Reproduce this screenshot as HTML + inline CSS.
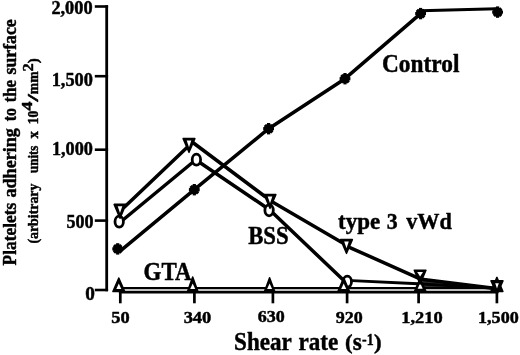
<!DOCTYPE html><html><head><meta charset="utf-8"><title>Platelet adhesion vs shear rate</title>
<style>html,body{margin:0;padding:0;background:#fff}svg{display:block;will-change:transform;filter:grayscale(1)}text{font-family:"Liberation Serif","DejaVu Serif",serif;font-weight:bold;fill:#000;stroke:#000;stroke-width:0.45px;stroke-linejoin:round}</style></head><body>
<svg width="520" height="355" viewBox="0 0 520 355">
<rect width="520" height="355" fill="#fff"/>
<g stroke="#000" fill="none" stroke-linecap="butt">
<path d="M106.7,5.3 V291.3" stroke-width="2.8"/>
<path d="M94.8,6.5 H108.1" stroke-width="2.6"/>
<path d="M94.8,76.2 H108.1" stroke-width="2.6"/>
<path d="M94.8,149.7 H108.1" stroke-width="2.6"/>
<path d="M94.8,220.6 H108.1" stroke-width="2.6"/>
<path d="M94.8,290.0 H108.1" stroke-width="2.6"/>
<path d="M118.9,292.2 H498.2" stroke-width="2.7"/>
<path d="M120.3,291 V303.3" stroke-width="2.7"/>
<path d="M194.4,291 V303.3" stroke-width="2.7"/>
<path d="M272.9,291 V303.3" stroke-width="2.7"/>
<path d="M347.1,291 V303.3" stroke-width="2.7"/>
<path d="M418.6,291 V303.3" stroke-width="2.7"/>
<path d="M496.9,291 V303.3" stroke-width="2.7"/>
</g>
<g stroke="#000" fill="none" stroke-linejoin="round" stroke-linecap="round">
<polyline stroke-width="3.5" points="121,250.3 194.3,189.7 268.6,128.7 345.0,78.7 420.6,13.6"/>
<path stroke-width="2.9" d="M420.6,10.8 L497,8.7"/>
<path stroke-width="3.5" d="M124.5,207 L187,147.5 M193.5,143 L265,196.5 M272.5,202 L341.5,242.3 M350.5,247.8 L419.5,278.6 M423.5,279.6 L496,288.6"/>
<path stroke-width="3.5" d="M123.5,219.5 L192.5,162.5 M200.5,163 L265.5,207 M273.5,213.6 L342.5,279.2 "/>
<path stroke-width="2.9" d="M352,280.6 L418,283.7 L496,288.4"/>
<path stroke-width="2.2" d="M120,288.2 H497"/>
</g>
<polygon points="421.5,278.2 493,287.6 493,289 424,289" fill="#000" fill-opacity="0.82"/>
<g>
<ellipse cx="119.20" cy="221.70" rx="4.2" ry="5.5" fill="#fff" stroke="#000" stroke-width="2.8"/>
<ellipse cx="196.40" cy="159.70" rx="4.2" ry="5.5" fill="#fff" stroke="#000" stroke-width="2.8"/>
<ellipse cx="269.10" cy="210.30" rx="4.2" ry="5.5" fill="#fff" stroke="#000" stroke-width="2.8"/>
<ellipse cx="347.30" cy="281.70" rx="4.2" ry="5.5" fill="#fff" stroke="#000" stroke-width="2.8"/>
<polygon points="112.90,291.55 124.70,291.55 118.80,277.95" fill="#000" stroke="#000" stroke-width="1.5" stroke-linejoin="round"/><polygon points="116.30,289.00 121.30,289.00 118.80,283.60" fill="#fff"/>
<polygon points="187.50,291.55 197.90,291.55 192.70,277.05" fill="#000" stroke="#000" stroke-width="1.5" stroke-linejoin="round"/><polygon points="190.20,289.00 195.20,289.00 192.70,283.60" fill="#fff"/>
<polygon points="264.50,291.55 274.70,291.55 269.60,277.65" fill="#000" stroke="#000" stroke-width="1.5" stroke-linejoin="round"/><polygon points="267.10,289.00 272.10,289.00 269.60,283.60" fill="#fff"/>
<polygon points="337.90,291.55 349.50,291.55 343.70,277.75" fill="#000" stroke="#000" stroke-width="1.5" stroke-linejoin="round"/><polygon points="341.20,289.00 346.20,289.00 343.70,283.60" fill="#fff"/>
<polygon points="414.45,291.55 425.95,291.55 420.20,277.95" fill="#000" stroke="#000" stroke-width="1.5" stroke-linejoin="round"/><polygon points="417.70,288.70 422.70,288.70 420.20,283.00" fill="#fff"/>
<polygon points="490.90,291.55 502.90,291.55 496.90,277.35" fill="#000" stroke="#000" stroke-width="1.5" stroke-linejoin="round"/>
<polygon points="114.20,204.40 125.80,204.40 120.00,218.10" fill="#000" stroke="#000" stroke-width="1.6" stroke-linejoin="round"/><polygon points="117.70,206.30 122.30,206.30 120.00,213.10" fill="#fff"/>
<polygon points="183.20,138.60 194.80,138.60 189.00,152.30" fill="#000" stroke="#000" stroke-width="1.6" stroke-linejoin="round"/><polygon points="186.70,140.50 191.30,140.50 189.00,147.30" fill="#fff"/>
<polygon points="264.20,194.60 275.80,194.60 270.00,208.30" fill="#000" stroke="#000" stroke-width="1.6" stroke-linejoin="round"/><polygon points="267.70,196.50 272.30,196.50 270.00,203.30" fill="#fff"/>
<polygon points="340.70,239.60 352.30,239.60 346.50,253.30" fill="#000" stroke="#000" stroke-width="1.6" stroke-linejoin="round"/><polygon points="344.20,241.50 348.80,241.50 346.50,248.30" fill="#fff"/>
<polygon points="414.30,270.30 425.90,270.30 420.10,284.00" fill="#000" stroke="#000" stroke-width="1.6" stroke-linejoin="round"/><polygon points="417.20,272.00 423.00,272.00 420.10,276.60" fill="#fff"/>
<polygon points="491.10,280.80 502.90,280.80 497.00,293.80" fill="#000" stroke="#000" stroke-width="1.6" stroke-linejoin="round"/><polygon points="495.20,283.30 498.80,283.30 497.00,288.50" fill="#fff"/>
<g transform="translate(117.70,248.90)"><circle r="4.7"/><rect x="-1.6" y="-5.7" width="3.2" height="11.4"/><rect x="-5.4" y="-1.6" width="10.8" height="3.2"/><rect x="-1.5" y="-5.3" width="3" height="10.6" transform="rotate(45)"/><rect x="-1.5" y="-5.3" width="3" height="10.6" transform="rotate(-45)"/></g>
<g transform="translate(194.30,189.70)"><circle r="4.7"/><rect x="-1.6" y="-5.7" width="3.2" height="11.4"/><rect x="-5.4" y="-1.6" width="10.8" height="3.2"/><rect x="-1.5" y="-5.3" width="3" height="10.6" transform="rotate(45)"/><rect x="-1.5" y="-5.3" width="3" height="10.6" transform="rotate(-45)"/></g>
<g transform="translate(268.60,128.70)"><circle r="4.7"/><rect x="-1.6" y="-5.7" width="3.2" height="11.4"/><rect x="-5.4" y="-1.6" width="10.8" height="3.2"/><rect x="-1.5" y="-5.3" width="3" height="10.6" transform="rotate(45)"/><rect x="-1.5" y="-5.3" width="3" height="10.6" transform="rotate(-45)"/></g>
<g transform="translate(345.00,78.70)"><circle r="4.7"/><rect x="-1.6" y="-5.7" width="3.2" height="11.4"/><rect x="-5.4" y="-1.6" width="10.8" height="3.2"/><rect x="-1.5" y="-5.3" width="3" height="10.6" transform="rotate(45)"/><rect x="-1.5" y="-5.3" width="3" height="10.6" transform="rotate(-45)"/></g>
<g transform="translate(420.60,13.60)"><circle r="4.7"/><rect x="-1.6" y="-5.7" width="3.2" height="11.4"/><rect x="-5.4" y="-1.6" width="10.8" height="3.2"/><rect x="-1.5" y="-5.3" width="3" height="10.6" transform="rotate(45)"/><rect x="-1.5" y="-5.3" width="3" height="10.6" transform="rotate(-45)"/></g>
<g transform="translate(497.60,12.10)"><circle r="4.7"/><rect x="-1.6" y="-5.7" width="3.2" height="11.4"/><rect x="-5.4" y="-1.6" width="10.8" height="3.2"/><rect x="-1.5" y="-5.3" width="3" height="10.6" transform="rotate(45)"/><rect x="-1.5" y="-5.3" width="3" height="10.6" transform="rotate(-45)"/></g>
</g>
<text x="92.6" y="14.2" font-size="18.1" text-anchor="end" textLength="41.2" lengthAdjust="spacingAndGlyphs">2,000</text>
<text x="92.9" y="85.7" font-size="18.1" text-anchor="end" textLength="41.2" lengthAdjust="spacingAndGlyphs">1,500</text>
<text x="92.9" y="154.7" font-size="18.1" text-anchor="end" textLength="41" lengthAdjust="spacingAndGlyphs">1,000</text>
<text x="93.6" y="227.8" font-size="18.1" text-anchor="end" textLength="27" lengthAdjust="spacingAndGlyphs">500</text>
<text x="94.9" y="300.3" font-size="18.1" text-anchor="end" textLength="9.6" lengthAdjust="spacingAndGlyphs">0</text>
<text x="120.4" y="323.3" font-size="16.8" text-anchor="middle" textLength="18.4" lengthAdjust="spacingAndGlyphs">50</text>
<text x="197.5" y="323.3" font-size="16.8" text-anchor="middle" textLength="27.7" lengthAdjust="spacingAndGlyphs">340</text>
<text x="271.3" y="322.3" font-size="16.8" text-anchor="middle" textLength="27.0" lengthAdjust="spacingAndGlyphs">630</text>
<text x="349.3" y="323.4" font-size="16.8" text-anchor="middle" textLength="27.0" lengthAdjust="spacingAndGlyphs">920</text>
<text x="422" y="322.9" font-size="16.8" text-anchor="middle" textLength="41.5" lengthAdjust="spacingAndGlyphs">1,210</text>
<text x="498.4" y="322.9" font-size="16.8" text-anchor="middle" textLength="40.7" lengthAdjust="spacingAndGlyphs">1,500</text>
<text x="382.0" y="71.9" font-size="24.2" text-anchor="start" textLength="77.4" lengthAdjust="spacingAndGlyphs">Control</text>
<text x="338.0" y="228.7" font-size="24" text-anchor="start" textLength="42.2" lengthAdjust="spacingAndGlyphs">type</text>
<text x="386.8" y="228.7" font-size="24" text-anchor="start" textLength="10.9" lengthAdjust="spacingAndGlyphs">3</text>
<text x="406.2" y="228.7" font-size="24" text-anchor="start" textLength="45.6" lengthAdjust="spacingAndGlyphs">vWd</text>
<text x="248.2" y="243.8" font-size="25" text-anchor="start" textLength="40.5" lengthAdjust="spacingAndGlyphs">BSS</text>
<text x="143.6" y="279.5" font-size="24.3" text-anchor="start" textLength="47.9" lengthAdjust="spacingAndGlyphs">GTA</text>
<text x="234.1" y="349.8" font-size="25" text-anchor="start" textLength="57.6" lengthAdjust="spacingAndGlyphs">Shear</text>
<text x="298.5" y="349.8" font-size="25" text-anchor="start" textLength="39.8" lengthAdjust="spacingAndGlyphs">rate</text>
<text x="345.0" y="348.9" font-size="21.5" text-anchor="start" textLength="7.6" lengthAdjust="spacingAndGlyphs">(</text>
<text x="352.7" y="349.8" font-size="25" text-anchor="start" textLength="9.0" lengthAdjust="spacingAndGlyphs">s</text>
<text x="362.0" y="344.9" font-size="16.3" text-anchor="start" textLength="11.6" lengthAdjust="spacingAndGlyphs">-1</text>
<text x="374.0" y="348.9" font-size="21.5" text-anchor="start" textLength="7.6" lengthAdjust="spacingAndGlyphs">)</text>
<text transform="translate(15.8,265.4) rotate(-90)" font-size="18.3" textLength="62.6" lengthAdjust="spacingAndGlyphs">Platelets</text>
<text transform="translate(15.8,197.6) rotate(-90)" font-size="18.3" textLength="69.5" lengthAdjust="spacingAndGlyphs">adhering</text>
<text transform="translate(15.8,121.2) rotate(-90)" font-size="18.3" textLength="13.3" lengthAdjust="spacingAndGlyphs">to</text>
<text transform="translate(15.8,102.3) rotate(-90)" font-size="18.3" textLength="22.1" lengthAdjust="spacingAndGlyphs">the</text>
<text transform="translate(15.8,74.5) rotate(-90)" font-size="18.3" textLength="55.2" lengthAdjust="spacingAndGlyphs">surface</text>
<text transform="translate(38.1,243.6) rotate(-90)" font-size="13.8" textLength="60.0" lengthAdjust="spacingAndGlyphs">(arbitrary</text>
<text transform="translate(38.1,173.0) rotate(-90)" font-size="13.8" textLength="27.4" lengthAdjust="spacingAndGlyphs">units</text>
<text transform="translate(38.1,138.5) rotate(-90)" font-size="13.8" textLength="7.4" lengthAdjust="spacingAndGlyphs">x</text>
<text transform="translate(38.1,124.2) rotate(-90)" font-size="13.8" textLength="13.6" lengthAdjust="spacingAndGlyphs">10</text>
<text transform="translate(31.8,110.8) rotate(-90)" font-size="14.5" textLength="9.2" lengthAdjust="spacingAndGlyphs">4</text>
<text transform="translate(38.1,101.5) rotate(-90)" font-size="13.8" textLength="7.4" lengthAdjust="spacingAndGlyphs">/</text>
<text transform="translate(38.1,94.2) rotate(-90)" font-size="13.8" textLength="23.0" lengthAdjust="spacingAndGlyphs">mm</text>
<text transform="translate(32.7,71.4) rotate(-90)" font-size="15" textLength="8.2" lengthAdjust="spacingAndGlyphs">2</text>
<text transform="translate(38.1,63.2) rotate(-90)" font-size="13.8" textLength="5.0" lengthAdjust="spacingAndGlyphs">)</text>
</svg></body></html>
